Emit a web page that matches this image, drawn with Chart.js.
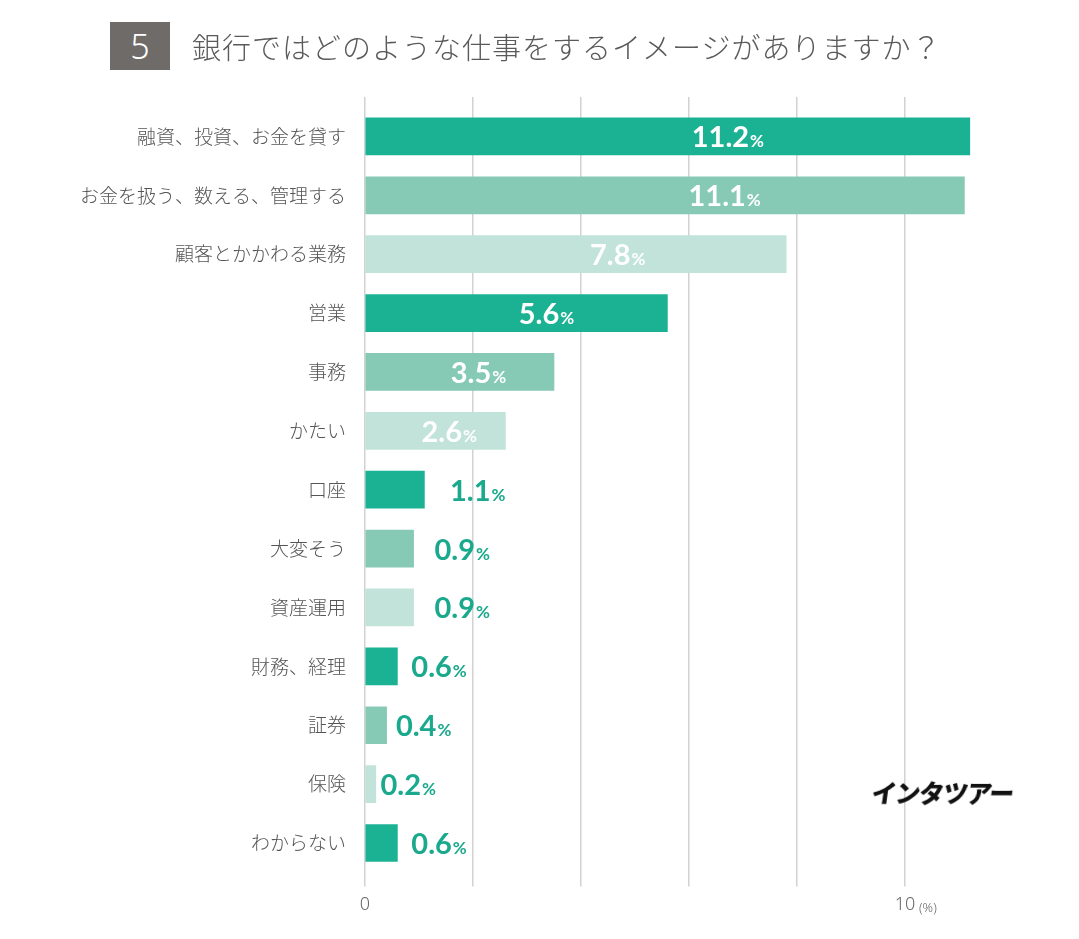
<!DOCTYPE html>
<html lang="ja">
<head>
<meta charset="utf-8">
<script src="https://cdn.jsdelivr.net/npm/chart.js@4.4.1/dist/chart.umd.min.js"></script>
<style>
  html, body { margin: 0; padding: 0; background: #fff; }
  #wrap { position: relative; width: 1079px; height: 939px; overflow: hidden; }
  #chartBox { position: absolute; left: 0; top: 0; width: 1079px; height: 939px; }
  .num-box {
    position: absolute; left: 110px; top: 22px; width: 60px; height: 48px;
    background: #6f6b68; color: #fff; font: 300 34px "Noto Sans", "DejaVu Sans", sans-serif;
    text-align: center; line-height: 48px;
  }
  .title {
    position: absolute; left: 192px; top: 25px; color: #5a5a5a;
    font: 300 29px "Noto Sans CJK JP", sans-serif; letter-spacing: 1px; white-space: nowrap;
  }
  .logo {
    position: absolute; left: 872px; top: 774px; color: #111;
    font: 900 25px "Noto Sans CJK JP", sans-serif; letter-spacing: -1.2px;
    transform: skewX(-8deg); white-space: nowrap;
  }
</style>
</head>
<body>
<div id="wrap">
  <div id="chartBox"><canvas id="bankChart"></canvas></div>
  <div class="num-box">5</div>
  <div class="title">銀行ではどのような仕事をするイメージがありますか？</div>
  <div class="logo">インタツアー</div>
</div>
<script>
// answers, top to bottom
const categories = [
    '融資、投資、お金を貸す',
    'お金を扱う、数える、管理する',
    '顧客とかかわる業務',
    '営業',
    '事務',
    'かたい',
    '口座',
    '大変そう',
    '資産運用',
    '財務、経理',
    '証券',
    '保険',
    'わからない'
];
const shares = [11.2, 11.1, 7.8, 5.6, 3.5, 2.6, 1.1, 0.9, 0.9, 0.6, 0.4, 0.2, 0.6];
const tickLabels = ['0', '10'];

const palette = ['#1bb294', '#86cab6', '#c2e3d9'];
const gridColor = '#d2d2d2';

// value labels: white inside long bars, teal beside short ones
const valueLabels = {
    id: 'valueLabels',
    afterDatasetsDraw(chart) {
        const ctx = chart.ctx;
        const x0 = chart.scales.x.getPixelForValue(0);
        const bars = chart.getDatasetMeta(0).data;
        const numFont = 'bold 29px Lato, "Open Sans", sans-serif';
        const pctFont = 'bold 17px Lato, "Open Sans", sans-serif';
        ctx.save();
        ctx.textBaseline = 'alphabetic';
        ctx.textAlign = 'left';
        bars.forEach((bar, i) => {
            const v = shares[i];
            const num = v.toFixed(1);
            ctx.font = numFont;
            const wn = ctx.measureText(num).width;
            ctx.font = pctFont;
            const wp = ctx.measureText('%').width;
            let left;
            if (v >= 2) {
                ctx.fillStyle = '#ffffff';
                left = x0 + (bar.x - x0) * 0.6 - (wn + wp + 1) / 2;
            } else {
                ctx.fillStyle = '#1aa98c';
                left = x0 + (bar.x - x0) * 1.43;
            }
            const base = bar.y + 11;
            ctx.font = numFont;
            ctx.fillText(num, left, base);
            ctx.font = pctFont;
            ctx.fillText('%', left + wn + 1, base);
        });
        // unit after the 10 tick
        const sx = chart.scales.x;
        ctx.fillStyle = '#666';
        ctx.font = '300 13px "Noto Sans", sans-serif';
        ctx.fillText('(%)', sx.getPixelForValue(10) + 14, sx.top + 40);
        ctx.restore();
    }
};

const onlyEvenTicks = scale => {
    scale.ticks = scale.ticks.filter(t => t.value % 2 === 0 && t.value <= 10);
};

const ctx = document.getElementById('bankChart').getContext('2d');
new Chart(ctx, {
    type: 'bar',
    data: {
        labels: categories,
        datasets: [{
            data: shares,
            backgroundColor: shares.map((_, i) => palette[i % 3]),
            barThickness: 37,
            borderWidth: 0
        }]
    },
    options: {
        indexAxis: 'y',
        responsive: true,
        maintainAspectRatio: false,
        animation: false,
        layout: {
            padding: { top: 97, right: 66, bottom: 15, left: 0 }
        },
        plugins: {
            legend: { display: false },
            tooltip: { enabled: false }
        },
        scales: {
            x: {
                position: 'bottom',
                min: 0,
                max: 12,
                ticks: {
                    stepSize: 2,
                    padding: 8,
                    color: '#666',
                    font: { family: '"Noto Sans", sans-serif', size: 18, weight: '300' },
                    maxRotation: 0,
                    callback: value => value === 0 ? tickLabels[0] : (value === 10 ? tickLabels[1] : '')
                },
                afterBuildTicks: onlyEvenTicks,
                grid: { color: gridColor, lineWidth: 1.5, drawTicks: true, tickLength: 14 },
                border: { display: false }
            },
            x2: {
                position: 'top',
                min: 0,
                max: 12,
                ticks: { stepSize: 2, display: false },
                afterBuildTicks: onlyEvenTicks,
                grid: { color: gridColor, lineWidth: 1.5, drawOnChartArea: false, drawTicks: true, tickLength: 10 },
                border: { display: false }
            },
            y: {
                afterFit: scale => { scale.width = 365; },
                ticks: {
                    padding: 19,
                    color: '#555',
                    font: { family: '"Noto Sans CJK JP", sans-serif', size: 19, weight: '300' }
                },
                grid: { display: false, drawTicks: false },
                border: { display: false }
            }
        }
    },
    plugins: [valueLabels]
});
</script>
</body>
</html>
